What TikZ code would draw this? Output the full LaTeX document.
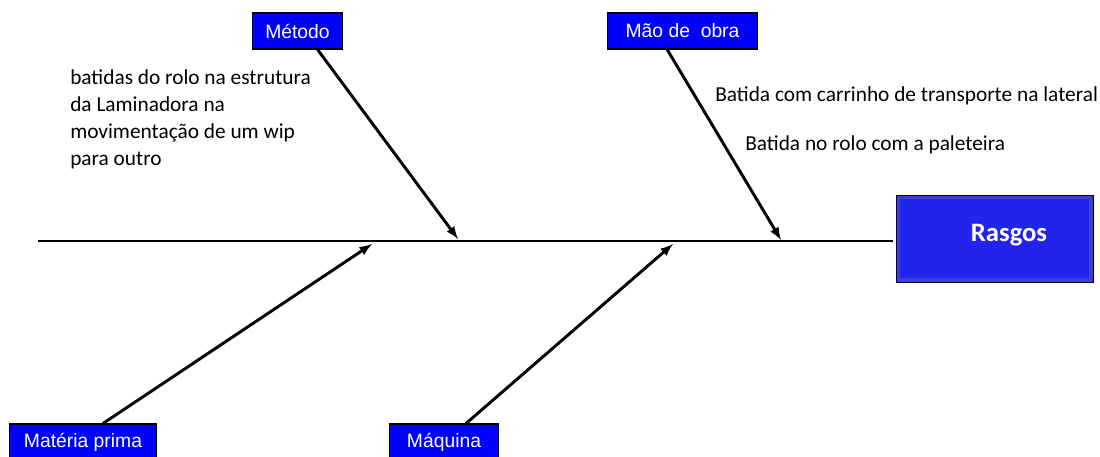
\documentclass[tikz,border=0pt]{standalone}
\usepackage{fontspec}
\setmainfont{Carlito}
\newfontfamily\arialfont{Liberation Sans}
\definecolor{boxblue}{RGB}{0,0,255}
\definecolor{headblue}{RGB}{35,35,238}
\definecolor{headedge}{RGB}{60,60,225}
\begin{document}
\begin{tikzpicture}[x=0.75pt,y=-0.75pt,
    cause/.style={draw=black, fill=boxblue, text=white, font=\arialfont\fontsize{14.5}{16}\selectfont,
        minimum height=27pt, inner sep=0pt, line width=0.8pt},
    bone/.style={line width=2.2pt, -latex},
    note/.style={anchor=base west, inner sep=0pt, font=\fontsize{16}{20.25}\selectfont}]
    \useasboundingbox (0,0) rectangle (1100,457);

    % Head
    \node[draw=black, fill=headedge, minimum width=148pt, minimum height=65pt, inner sep=0pt] (rasgos) at (994.5,238.5) {};
    \fill[headblue] ([shift={(3pt,-3pt)}]rasgos.north west) rectangle ([shift={(-3pt,3pt)}]rasgos.south east);
    \node[text=white, font=\bfseries\fontsize{20}{24}\selectfont] (rasgostxt) at (1009,235) {Rasgos};

    % Spine
    \coordinate (tail) at (38,241);
    \draw[line width=2.2pt] (tail) -- ([xshift=-2pt]tail -| rasgos.west);

    % Cause boxes
    \node[cause, minimum width=68pt] (metodo) at (297.5,31) {Método};
    \node[cause, minimum width=113pt] (maoobra) at (682.5,31) {Mão de\ \ obra};
    \node[cause, minimum width=110pt] (materia) at (83,442) {Matéria prima};
    \node[cause, minimum width=82pt] (maquina) at (444,442) {Máquina};

    % Bones
    \coordinate (m1) at (458,239);
    \coordinate (m2) at (781,240);
    \coordinate (m3) at (372,244);
    \coordinate (m4) at (673,244);
    \draw[bone] ([xshift=15pt]metodo.south) -- (m1);
    \draw[bone] ([xshift=-11.5pt]maoobra.south) -- (m2);
    \draw[bone] ([xshift=15pt]materia.north) -- (m3);
    \draw[bone] ([xshift=16.5pt]maquina.north) -- (m4);

    % Notes
    \node[note] (n1) at (70,84) {batidas do rolo na estrutura};
    \node[note] (n2) at (70,111) {da Laminadora na};
    \node[note] (n3) at (70,138) {movimentação de um wip};
    \node[note] (n4) at (70,165) {para outro};
    \node[note] (n5) at (715,101) {Batida com carrinho de transporte na lateral};
    \node[note] (n6) at (745,150) {Batida no rolo com a paleteira};
\end{tikzpicture}
\end{document}
